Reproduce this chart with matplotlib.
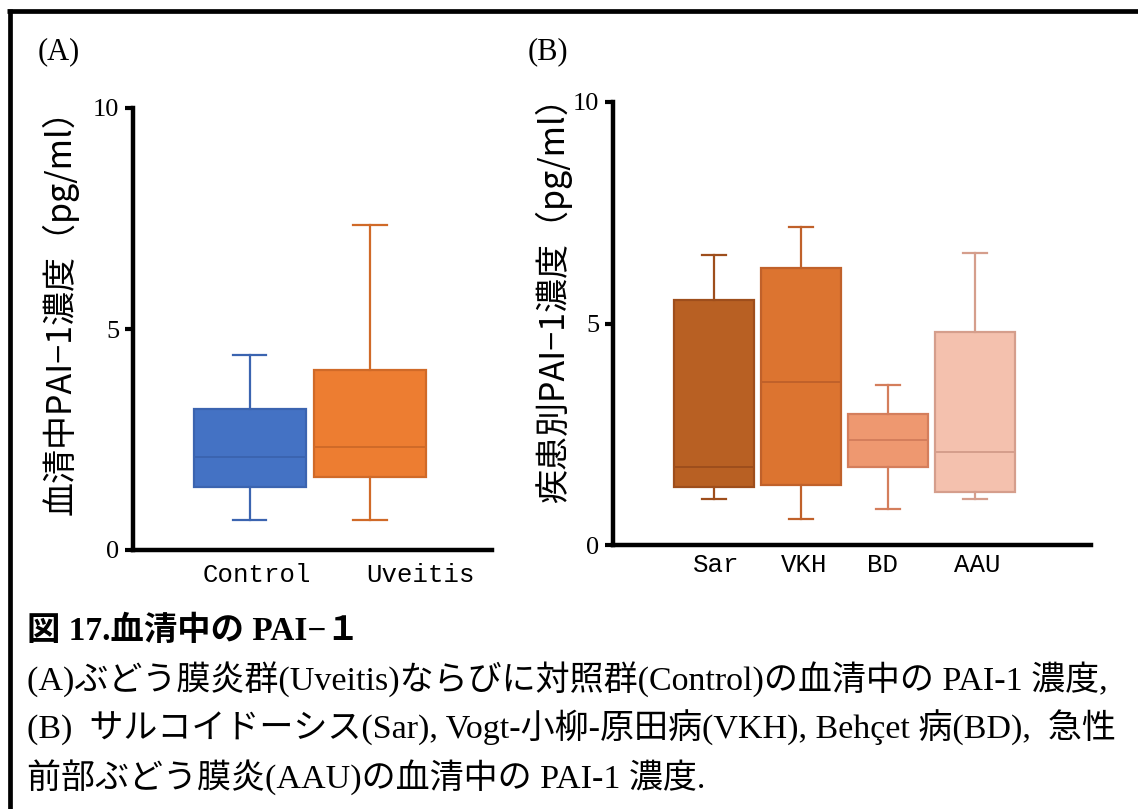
import matplotlib
matplotlib.use("Agg")
import matplotlib.pyplot as plt
from matplotlib.lines import Line2D

plt.rcParams["font.family"] = ["Liberation Serif", "Noto Sans CJK JP"]

W, H = 1138, 809

# ---------- (A) serum PAI-1: control vs uveitis ----------
groups_a = ["Control", "Uveitis"]
a_min = [0.69, 0.69]
a_q1 = [1.43, 1.66]
a_med = [2.11, 2.34]
a_q3 = [3.18, 4.07]
a_max = [4.41, 7.35]
fills_a = ["#4472C4", "#ED7D31"]
edges_a = ["#3B64B0", "#D06A28"]

# ---------- (B) serum PAI-1 by disease ----------
groups_b = ["Sar", "VKH", "BD", "AAU"]
b_min = [1.03, 0.58, 0.81, 1.03]
b_q1 = [1.32, 1.35, 1.77, 1.20]
b_med = [1.77, 3.68, 2.38, 2.10]
b_q3 = [5.53, 6.26, 2.95, 4.80]
b_max = [6.54, 7.17, 3.62, 6.59]
fills_b = ["#B86023", "#DC7430", "#EE9870", "#F4C1AE"]
edges_b = ["#9E4E1C", "#C0612A", "#D47E5C", "#D59E8C"]

yticks = [0, 5, 10]


def px_axes(left, right, top, bottom):
    return [left / W, 1 - bottom / H, (right - left) / W, (bottom - top) / H]


def draw_panel(ax, labels, mins, q1s, meds, q3s, maxs, fills, edges,
               label_pos, width, xlim, pad):
    stats = []
    for lab, lo, q1, md, q3, hi in zip(labels, mins, q1s, meds, q3s, maxs):
        stats.append(dict(label=lab, whislo=lo, q1=q1, med=md, q3=q3,
                          whishi=hi, fliers=[]))
    pos = list(range(1, len(labels) + 1))
    bp = ax.bxp(stats, positions=pos, widths=width, capwidths=0.28,
                patch_artist=True, showfliers=False, manage_ticks=False)
    for i, (fc, ec) in enumerate(zip(fills, edges)):
        bp["boxes"][i].set(facecolor=fc, edgecolor=ec, linewidth=1.6)
        bp["medians"][i].set(color=ec, linewidth=1.4)
        for ln in bp["whiskers"][2 * i:2 * i + 2] + bp["caps"][2 * i:2 * i + 2]:
            ln.set(color=ec, linewidth=1.6)

    ax.set_xlim(*xlim)
    ax.set_ylim(0, 10)
    ax.set_yticks(yticks)
    ax.set_yticklabels([str(t) for t in yticks], fontsize=19)
    ax.set_xticks(label_pos)
    ax.set_xticklabels(labels, fontsize=18.5, family="Liberation Mono")
    ax.tick_params(axis="x", length=0, pad=pad)
    ax.tick_params(axis="y", length=6, width=3, direction="out", pad=4)
    for s in ("top", "right"):
        ax.spines[s].set_visible(False)
    for s in ("left", "bottom"):
        ax.spines[s].set_linewidth(3.2)
    ax.patch.set_alpha(0)


fig = plt.figure(figsize=(W / 100, H / 100), dpi=100)

ax_a = fig.add_axes(px_axes(133, 492, 108, 550))
draw_panel(ax_a, groups_a, a_min, a_q1, a_med, a_q3, a_max, fills_a, edges_a,
           label_pos=[1.06, 2.42], width=0.93, xlim=(0.033, 3.01), pad=9)

ax_b = fig.add_axes(px_axes(613, 1091, 102, 545))
draw_panel(ax_b, groups_b, b_min, b_q1, b_med, b_q3, b_max, fills_b, edges_b,
           label_pos=[1.02, 2.03, 2.93, 4.02], width=0.92, xlim=(-0.16, 5.33),
           pad=6)

# y-axis titles
fig.text(60 / W, 1 - 304 / H, "血清中PAI−1濃度（pg/ml）", rotation=90,
         ha="center", va="center", fontsize=24.5,
         family=["Noto Sans CJK JP", "DejaVu Sans"])
fig.text(553 / W, 1 - 292 / H, "疾患別PAI−1濃度（pg/ml）", rotation=90,
         ha="center", va="center", fontsize=24.5,
         family=["Noto Sans CJK JP", "DejaVu Sans"])

# panel letters
fig.text(38 / W, 1 - 52 / H, "(A)", fontsize=22, va="center")
fig.text(528 / W, 1 - 52 / H, "(B)", fontsize=22, va="center")

# caption
fig.text(27 / W, 1 - 631 / H, "図 17.血清中の PAI−１", fontsize=24,
         fontweight="bold", va="center")
caption = [
    "(A)ぶどう膜炎群(Uveitis)ならびに対照群(Control)の血清中の PAI-1 濃度,",
    "(B)  サルコイドーシス(Sar), Vogt-小柳-原田病(VKH), Behçet 病(BD),  急性",
    "前部ぶどう膜炎(AAU)の血清中の PAI-1 濃度.",
]
for k, line in enumerate(caption):
    fig.text(27 / W, 1 - (679 + 49 * k) / H, line, fontsize=24.5, va="center")

# frame around the figure
fig.add_artist(Line2D([7 / W, 1], [1 - 11 / H, 1 - 11 / H], color="black",
                      linewidth=3.4, solid_capstyle="butt"))
fig.add_artist(Line2D([9.5 / W, 9.5 / W], [0, 1 - 9 / H], color="black",
                      linewidth=3.4, solid_capstyle="butt"))

fig.savefig("out.png", dpi=100)
